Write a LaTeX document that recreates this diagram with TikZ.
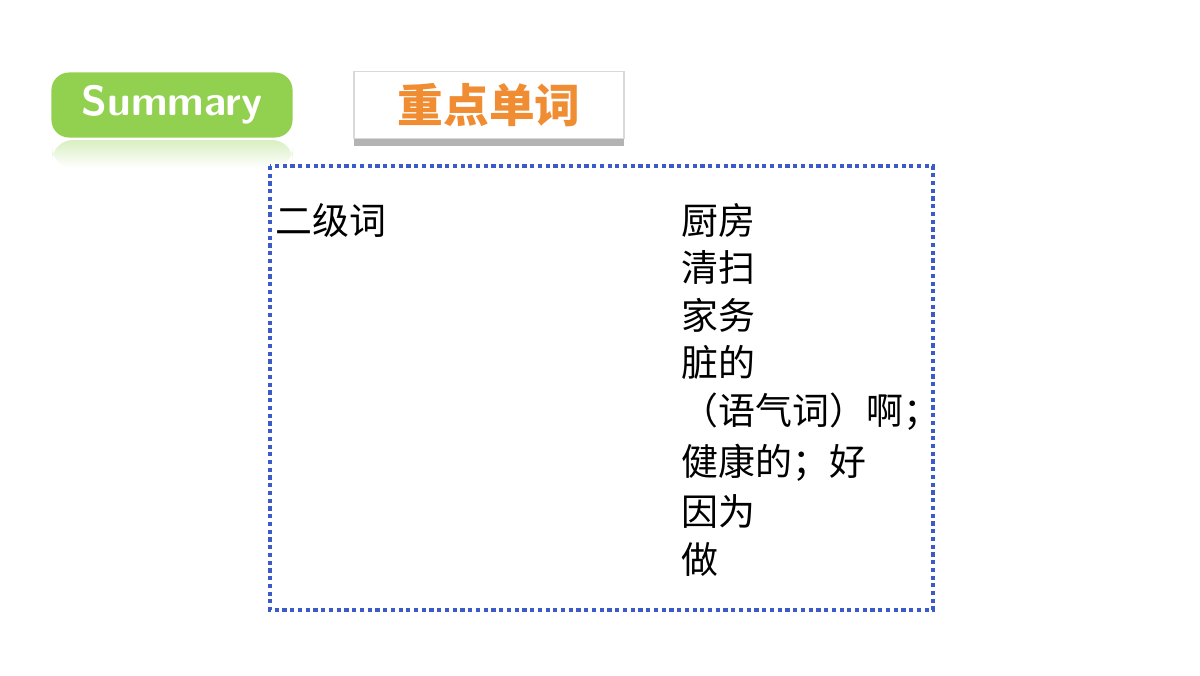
\documentclass[tikz,border=0pt]{standalone}
\usepackage{fontspec}
\setmainfont{Noto Sans CJK SC}
\newfontfamily\cjk{Noto Sans CJK SC}
\usetikzlibrary{positioning,shadows}
\definecolor{sumgreen}{RGB}{146,208,80}
\definecolor{titleorange}{RGB}{240,140,50}
\definecolor{dotblue}{RGB}{60,90,200}
\begin{document}
\begin{tikzpicture}[x=0.01cm,y=-0.01cm,
  word/.style = {anchor=west, inner sep=0pt, font=\fontsize{10.5pt}{12pt}\selectfont\cjk}]
\useasboundingbox (0,0) rectangle (1200,675);

        \shade[top color=sumgreen!35, bottom color=white, rounded corners=6pt] (52,140) rectangle (293,168);
        \node[fill=sumgreen, rounded corners=5pt, minimum width=2.41cm, minimum height=0.65cm, text=white,
              font=\fontsize{12pt}{14pt}\selectfont\sffamily\bfseries] (summary) at (172,105) {Summary};
        \node[fill=white, draw=black!15, drop shadow={shadow xshift=0pt, shadow yshift=-2pt, opacity=0.6},
              minimum width=2.7cm, minimum height=0.64cm, text=titleorange,
              font=\fontsize{13pt}{15pt}\selectfont\cjk\bfseries] (title) at (489,105) {重点单词};
        \draw[dotblue, densely dotted, line width=1.2pt] (270,166) rectangle (933,610);

        \node[word] (level) at (275,220) {二级词};
        \node[word] (w1) at (681,220) {厨房};
        \node[word, below=0.12cm of w1.south west, anchor=north west] (w2) {清扫};
        \node[word, below=0.12cm of w2.south west, anchor=north west] (w3) {家务};
        \node[word, below=0.12cm of w3.south west, anchor=north west] (w4) {脏的};
        \node[word, below=0.12cm of w4.south west, anchor=north west] (w5) {（语气词）啊；};
        \node[word, below=0.12cm of w5.south west, anchor=north west] (w6) {健康的；好};
        \node[word, below=0.12cm of w6.south west, anchor=north west] (w7) {因为};
        \node[word, below=0.12cm of w7.south west, anchor=north west] (w8) {做};

\end{tikzpicture}
\end{document}
